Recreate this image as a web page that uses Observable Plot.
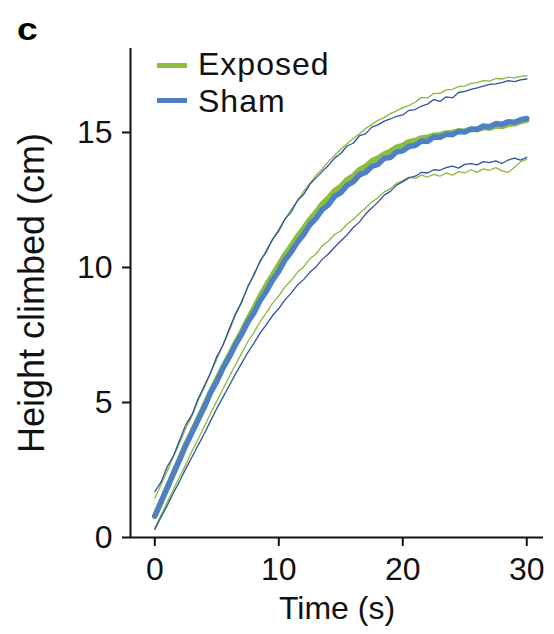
<!DOCTYPE html>
<html>
<head>
<meta charset="utf-8">
<script src="https://cdn.jsdelivr.net/npm/d3@7"></script>
<script src="https://cdn.jsdelivr.net/npm/@observablehq/plot@0.6"></script>
<style>
  html, body { margin: 0; padding: 0; background: #fff; }
  #wrap { position: relative; width: 554px; height: 634px; font-family: "Liberation Sans", Arial, Helvetica, sans-serif; }
  #chart { position: absolute; left: 0; top: 0; }
  .panel { position: absolute; left: 17px; top: 10px; font-size: 31px; font-weight: bold; line-height: 40px; transform: scaleX(1.2); transform-origin: left top; }
  .sw { position: absolute; left: 157px; width: 30px; height: 5px; }
  .lt { position: absolute; left: 198px; font-size: 32px; line-height: 32px; letter-spacing: 1px; color: #111; white-space: nowrap; }
</style>
</head>
<body>
<div id="wrap">
  <div id="chart"></div>
  <div class="panel">c</div>
  <div class="sw" style="top:63px; background:#8cbd3f"></div>
  <div class="lt" style="top:48px">Exposed</div>
  <div class="sw" style="top:98px; background:#4f80c4"></div>
  <div class="lt" style="top:85px">Sham</div>
</div>
<script>
// Time grid (s)
const time = [0,0.5,1,1.5,2,2.5,3,3.5,4,4.5,5,5.5,6,6.5,7,7.5,8,8.5,9,9.5,10,10.5,11,11.5,12,12.5,13,13.5,14,14.5,15,15.5,16,16.5,17,17.5,18,18.5,19,19.5,20,20.5,21,21.5,22,22.5,23,23.5,24,24.5,25,25.5,26,26.5,27,27.5,28,28.5,29,29.5,30];

// Mean height climbed (cm)
const shamMean = [0.8,1.32,1.83,2.38,2.88,3.42,3.88,4.37,4.83,5.36,5.78,6.27,6.68,7.13,7.52,7.98,8.32,8.78,9.12,9.53,9.86,10.28,10.57,10.93,11.22,11.58,11.82,12.14,12.32,12.63,12.77,13.04,13.17,13.43,13.52,13.74,13.82,14.04,14.07,14.28,14.32,14.48,14.52,14.68,14.67,14.83,14.82,14.93,14.92,15.04,15.02,15.13,15.12,15.24,15.21,15.33,15.3,15.4,15.38,15.47,15.52];
const exposedMean = [0.78,1.3,1.86,2.36,2.9,3.45,3.92,4.4,4.9,5.4,5.85,6.32,6.75,7.2,7.62,8.08,8.5,8.95,9.35,9.72,10.1,10.48,10.8,11.15,11.45,11.78,12.05,12.35,12.58,12.85,13.0,13.25,13.4,13.62,13.74,13.95,14.05,14.2,14.3,14.46,14.52,14.66,14.7,14.8,14.82,14.9,14.92,14.98,15.0,15.06,15.05,15.12,15.1,15.18,15.16,15.24,15.22,15.3,15.32,15.4,15.45];

// Upper / lower bounds
const shamUpper = [1.7,2.05,2.62,3.02,3.6,4.18,4.55,5.15,5.62,6.1,6.7,7.12,7.72,8.28,8.7,9.3,9.72,10.25,10.58,11.05,11.35,11.8,12.05,12.48,12.7,13.08,13.32,13.55,13.78,14.05,14.22,14.5,14.6,14.88,14.95,15.2,15.28,15.42,15.5,15.6,15.65,15.82,15.85,15.98,16.05,16.22,16.15,16.32,16.28,16.48,16.52,16.6,16.65,16.72,16.78,16.8,16.85,16.92,16.88,16.95,16.98];
const exposedUpper = [1.45,1.95,2.45,3.0,3.5,4.05,4.5,5.08,5.55,6.1,6.6,7.15,7.65,8.22,8.75,9.25,9.78,10.2,10.65,11.02,11.42,11.78,12.15,12.45,12.82,13.1,13.42,13.65,13.92,14.15,14.38,14.58,14.78,14.95,15.15,15.3,15.45,15.55,15.7,15.8,15.92,16.0,16.12,16.3,16.28,16.45,16.45,16.58,16.6,16.7,16.72,16.82,16.85,16.92,16.9,17.0,16.98,17.05,17.02,17.08,17.1];
const shamLower = [0.3,0.75,1.18,1.65,2.08,2.55,2.98,3.42,3.85,4.32,4.78,5.2,5.62,6.05,6.45,6.85,7.2,7.58,7.88,8.22,8.48,8.8,9.05,9.35,9.55,9.82,10.02,10.3,10.5,10.75,10.98,11.2,11.48,11.68,11.98,12.2,12.42,12.68,12.82,13.05,13.18,13.32,13.38,13.52,13.5,13.62,13.6,13.7,13.75,13.68,13.82,13.85,13.8,13.92,13.88,13.95,13.85,13.98,14.05,13.98,14.08];
const exposedLower = [0.35,0.82,1.3,1.78,2.25,2.7,3.2,3.65,4.12,4.6,5.05,5.5,5.95,6.4,6.82,7.25,7.6,8.0,8.32,8.68,8.95,9.28,9.52,9.82,10.02,10.32,10.5,10.8,10.98,11.22,11.35,11.6,11.78,12.0,12.2,12.42,12.58,12.8,12.92,13.12,13.22,13.35,13.3,13.42,13.35,13.45,13.38,13.5,13.42,13.55,13.5,13.62,13.52,13.65,13.6,13.7,13.58,13.52,13.7,13.92,14.0];

// Axis ticks and labels
const xTicks = [0, 10, 20, 30];
const yTicks = [0, 5, 10, 15];
const xLabel = "Time (s)";
const yLabel = "Height climbed (cm)";

const C = { gThick: "#8cbd3f", bThick: "#4f80c4", gThin: "#8ab83a", bThin: "#2c52a3" };

function rows(ys) { return time.map((t, i) => ({ t, v: ys[i] })); }

const xDom = [-1.96, 31.35];
const yDom = [0, 18.11];

const plot = Plot.plot({
  width: 554,
  height: 634,
  marginLeft: 130,
  marginRight: 11,
  marginTop: 48,
  marginBottom: 97,
  x: { domain: xDom },
  y: { domain: yDom },
  style: { fontFamily: '"Liberation Sans", Arial, Helvetica, sans-serif', fontSize: "32px", color: "#111", background: "transparent" },
  marks: [
    Plot.line(rows(exposedUpper), { x: "t", y: "v", stroke: C.gThin, strokeWidth: 1.3 }),
    Plot.line(rows(shamUpper), { x: "t", y: "v", stroke: C.bThin, strokeWidth: 1.3 }),
    Plot.line(rows(exposedLower), { x: "t", y: "v", stroke: C.gThin, strokeWidth: 1.3 }),
    Plot.line(rows(shamLower), { x: "t", y: "v", stroke: C.bThin, strokeWidth: 1.3 }),
    Plot.line(rows(exposedMean), { x: "t", y: "v", stroke: C.gThick, strokeWidth: 5.5 }),
    Plot.line(rows(shamMean), { x: "t", y: "v", stroke: C.bThick, strokeWidth: 5.5 }),
    Plot.ruleX([xDom[0]], { y1: yDom[0], y2: yDom[1], stroke: "#111", strokeWidth: 2 }),
    Plot.ruleY([yDom[0]], { x1: xDom[0], x2: xDom[1], stroke: "#111", strokeWidth: 2 }),
    Plot.axisX({ ticks: xTicks, tickSize: 9, tickPadding: 11, fontSize: 32, strokeWidth: 2, label: null }),
    Plot.axisY({ ticks: yTicks, tickSize: 8, tickPadding: 10, fontSize: 32, strokeWidth: 2, label: null }),
    Plot.text([xLabel], { frameAnchor: "bottom", textAnchor: "middle", lineAnchor: "middle", dy: 71, fontSize: 32, fill: "#111" }),
    Plot.text([yLabel], { frameAnchor: "left", textAnchor: "middle", lineAnchor: "middle", rotate: -90, dx: -98, fontSize: 36, fill: "#111" })
  ]
});
document.getElementById("chart").appendChild(plot);
</script>
</body>
</html>
